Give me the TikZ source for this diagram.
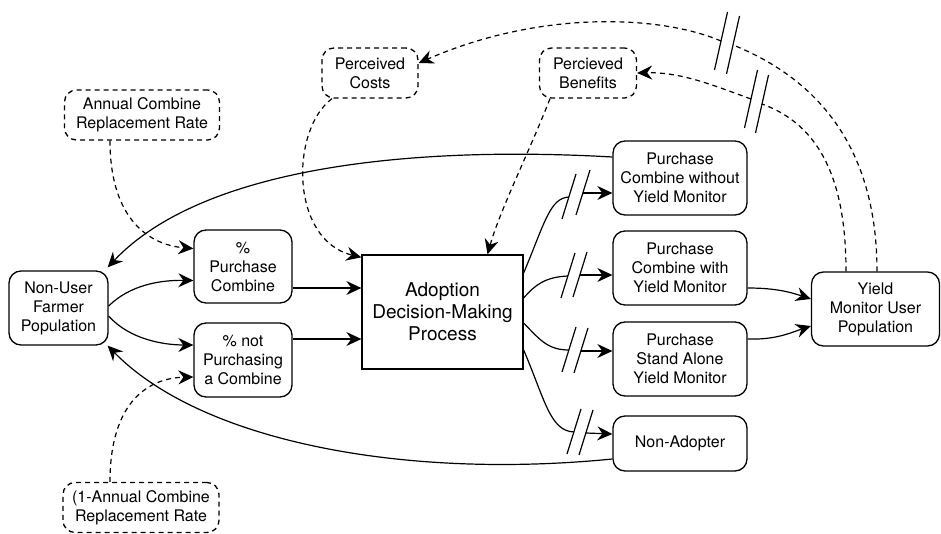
\documentclass[tikz,border=0pt]{standalone}
\usepackage{fontspec}
\setmainfont{TeX Gyre Heros}
\usetikzlibrary{arrows.meta,calc}
\begin{document}
\begin{tikzpicture}[x=1pt,y=-1pt,
  every node/.style={inner sep=0pt,align=center},
  box/.style={draw,rounded corners=12pt,line width=1.3pt,font=\fontsize{16}{19}\selectfont},
  dbox/.style={box,dash pattern=on 5pt off 4pt},
  bigbox/.style={draw,line width=1.3pt,font=\fontsize{19}{22}\selectfont},
  con/.style={line width=1.2pt,-{Stealth[length=15pt,width=14pt,inset=5pt]}},
  conp/.style={line width=1.2pt},
  dcon/.style={con,dash pattern=on 5pt off 4pt},
  dconp/.style={conp,dash pattern=on 5pt off 4pt},
  slash/.style={line width=1.2pt}]
\useasboundingbox (0,0) rectangle (941,534);

% nodes
\node[dbox,minimum width=155pt,minimum height=50pt] (annual) at (142,115) {Annual Combine\\Replacement Rate};
\node[dbox,minimum width=96pt,minimum height=50pt] (costs) at (370,73) {Perceived\\Costs};
\node[dbox,minimum width=97pt,minimum height=50pt] (benefits) at (588,73) {Percieved\\Benefits};
\node[box,minimum width=99pt,minimum height=74pt] (nonuser) at (58.5,308) {Non-User\\Farmer\\Population};
\node[box,minimum width=98pt,minimum height=73pt] (purch) at (243,266.5) {\%\\Purchase\\Combine};
\node[box,minimum width=98pt,minimum height=74pt] (notpurch) at (243,360) {\% not\\Purchasing\\a Combine};
\node[bigbox,minimum width=161pt,minimum height=114pt] (adopt) at (442.5,312) {Adoption\\Decision-Making\\Process};
\node[box,minimum width=134pt,minimum height=74pt] (ym0) at (680,178) {Purchase\\Combine without\\Yield Monitor};
\node[box,minimum width=134pt,minimum height=74pt] (ym1) at (680,268) {Purchase\\Combine with\\Yield Monitor};
\node[box,minimum width=134pt,minimum height=74pt] (ym2) at (680,359) {Purchase\\Stand Alone\\Yield Monitor};
\node[box,minimum width=134pt,minimum height=55pt] (nonad) at (680,443.5) {Non-Adopter};
\node[box,minimum width=128pt,minimum height=74pt] (yield) at (875.5,309) {Yield\\Monitor User\\Population};
\node[dbox,minimum width=156pt,minimum height=50pt] (oneminus) at (141,507.5) {(1-Annual Combine\\Replacement Rate};

% break coordinates
\coordinate (b0a) at (569,197);
\coordinate (b0b) at (583,193);
\coordinate (b1a) at (568,276);
\coordinate (b1b) at (580,275);
\coordinate (b2a) at (569,350);
\coordinate (b2b) at (581,351);
\coordinate (b3a) at (574,432);
\coordinate (b3b) at (586,433);
\coordinate (toa) at (721,41);
\coordinate (tob) at (733,45);
\coordinate (tia) at (751,99);
\coordinate (tib) at (762,104);

% non-user flows
\draw[con] ([yshift=2pt]nonuser.east) .. controls (130,285) and (160,280) .. ([yshift=-14pt]purch.west);
\draw[con] ([yshift=-8pt]nonuser.east) .. controls (130,340) and (165,345) .. ([yshift=15pt]notpurch.west);
\draw[con] ([yshift=-21.5pt]purch.east) -- ([yshift=-21.5pt]purch.east -| adopt.west);
\draw[con] ([yshift=21pt]notpurch.east) -- ([yshift=21pt]notpurch.east -| adopt.west);

% returns to non-user
\draw[con] ([yshift=21pt]ym0.west) .. controls (400,145) and (200,170) .. ([xshift=-1pt,yshift=3pt]nonuser.north east);
\draw[con] ([yshift=-15.5pt]nonad.west) .. controls (400,480) and (200,440) .. ([xshift=-1pt]nonuser.south east);

% adoption outputs with breaks
\draw[conp] ([yshift=39pt]adopt.east) .. controls (545,222) and (550,198) .. (b0a);
\draw[con] (b0b) -- ([yshift=-15pt]ym0.west);
\draw[conp] ([yshift=14pt]adopt.east) .. controls (535,285) and (545,277) .. (b1a);
\draw[con] (b1b) -- ([yshift=-7pt]ym1.west);
\draw[conp] ([yshift=-11pt]adopt.east) .. controls (540,340) and (548,350) .. (b2a);
\draw[con] (b2b) -- ([yshift=8pt]ym2.west);
\draw[conp] ([yshift=-38pt]adopt.east) .. controls (545,400) and (550,431) .. (b3a);
\draw[con] (b3b) -- ([yshift=9.5pt]nonad.west);
\foreach \p in {b0a,b0b,b1a,b1b,b2a,b2b,b3a,b3b}
  \draw[slash] ($(\p)+(-7,22)$) -- ++(14,-45);

% to yield monitor users
\draw[con] ([yshift=-20pt]ym1.east) .. controls (775,288) and (790,292) .. ([yshift=10pt]yield.west);
\draw[con] ([yshift=20pt]ym2.east) .. controls (775,340) and (790,333) .. ([yshift=-17pt]yield.west);

% dashed influences
\draw[dcon] ([xshift=-32pt]annual.south) .. controls (110,220) and (150,245) .. ([yshift=18pt]purch.west);
\draw[dcon] ([xshift=-31pt]oneminus.north) .. controls (110,400) and (150,378) .. ([yshift=-17pt]notpurch.west);
\draw[dcon] ([xshift=-38pt]costs.south) .. controls (290,130) and (290,240) .. ([yshift=-3pt]adopt.north west);
\draw[dcon] ([xshift=-38pt]benefits.south) .. controls (530,150) and (500,210) .. ([xshift=45pt]adopt.north);

% feedback from yield monitor users
\draw[dconp] ([xshift=1.5pt]yield.north) .. controls (877,150) and (820,80) .. (tob);
\draw[dcon] (toa) .. controls (660,15) and (540,10) .. ([yshift=10pt]costs.east);
\draw[dconp] ([xshift=-29.5pt]yield.north) .. controls (846,180) and (820,125) .. (tib);
\draw[dcon] (tia) .. controls (710,84) and (680,72) .. (benefits.east);
\foreach \p in {toa,tob,tia,tib}
  \draw[slash] ($(\p)+(-6.5,29)$) -- ++(13,-58);
\end{tikzpicture}
\end{document}
